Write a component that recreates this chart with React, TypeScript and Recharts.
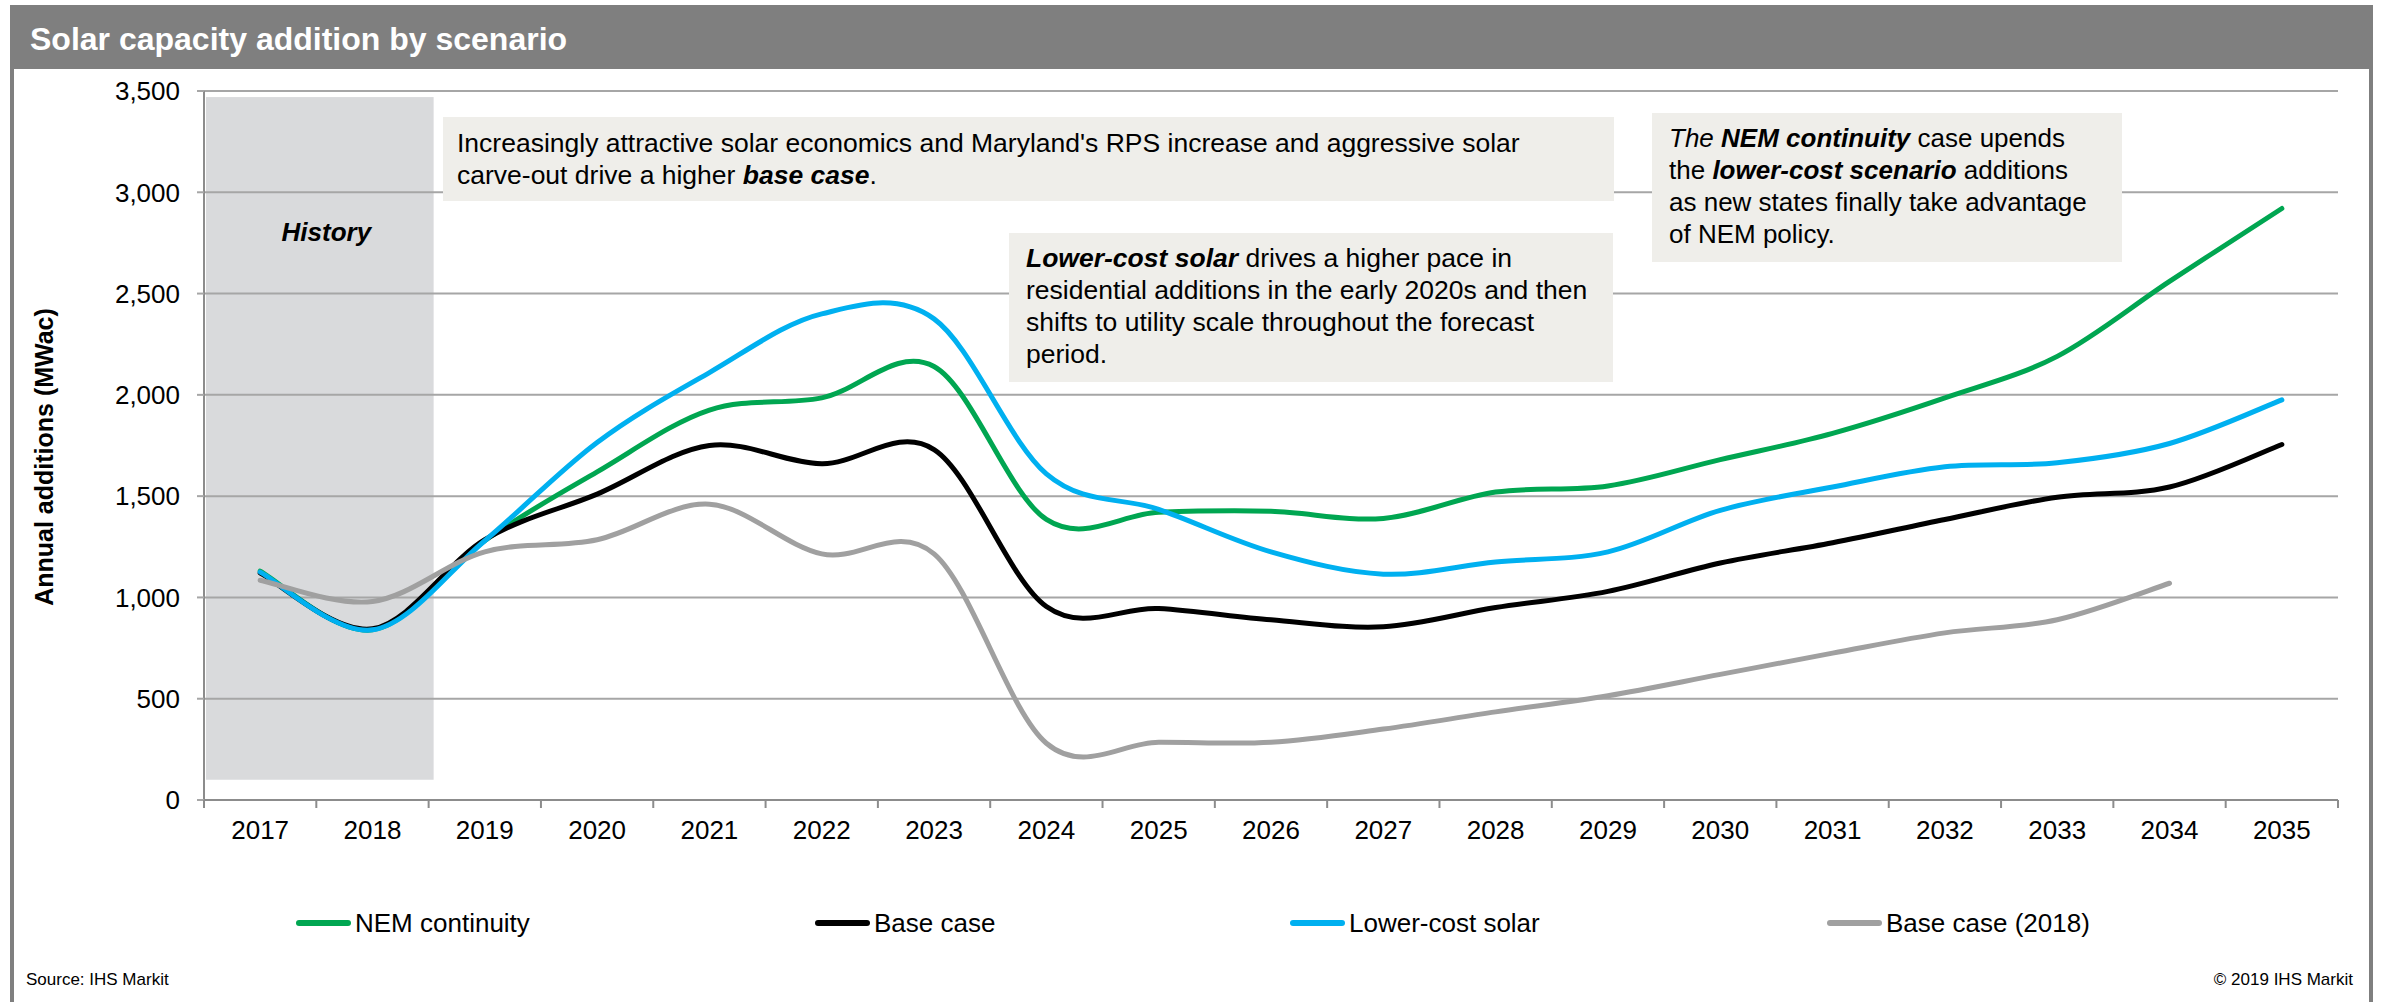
import React from 'react';
import { CartesianGrid, Line, LineChart, ReferenceArea, XAxis, YAxis } from 'recharts';

const years = [
  '2017', '2018', '2019', '2020', '2021', '2022', '2023', '2024', '2025', '2026',
  '2027', '2028', '2029', '2030', '2031', '2032', '2033', '2034', '2035',
];
const nemContinuity = [1130, 840, 1280, 1620, 1925, 1985, 2140, 1385, 1420, 1425, 1390, 1520, 1550, 1680, 1810, 1985, 2190, 2560, 2920];
const baseCase = [1120, 845, 1285, 1510, 1750, 1660, 1730, 955, 945, 890, 855, 950, 1030, 1170, 1270, 1385, 1495, 1545, 1755];
const lowerCostSolar = [1125, 840, 1280, 1765, 2110, 2400, 2375, 1610, 1435, 1225, 1115, 1175, 1225, 1430, 1545, 1645, 1665, 1760, 1975];
const baseCase2018 = [1085, 980, 1225, 1285, 1460, 1215, 1215, 280, 285, 285, 350, 435, 515, 620, 725, 825, 890, 1070, null];
const yTicks = [0, 500, 1000, 1500, 2000, 2500, 3000, 3500];
const historyYears = ['2017', '2018'];
const historyRange = [100, 3470];

const series = [
  { key: 'nem', name: 'NEM continuity', color: '#00A651', values: nemContinuity },
  { key: 'base', name: 'Base case', color: '#000000', values: baseCase },
  { key: 'lower', name: 'Lower-cost solar', color: '#00B0F0', values: lowerCostSolar },
  { key: 'base2018', name: 'Base case (2018)', color: '#A0A0A0', values: baseCase2018 },
];

const data = years.map((year, i) => {
  const row: Record<string, string | number | null> = { year };
  series.forEach((s) => {
    row[s.key] = s.values[i];
  });
  return row;
});

const W = 2382;
const H = 1002;
const PLOT_LEFT = 204;
const PLOT_RIGHT = 2338;
const PLOT_TOP = 91;
const PLOT_BOTTOM = 800;
const Y_AXIS_W = 80;
const X_AXIS_H = 50;
const HALF_BAND = (PLOT_RIGHT - PLOT_LEFT) / years.length / 2;
const TICK_SIZE = 8;
const FONT = '"Liberation Sans", Arial, sans-serif';
const legendLeft = [296, 815, 1290, 1827];

// Excel-style smoothed line: Catmull-Rom segments through every point
const smoothCurve = (context: any) => {
  let pts: [number, number][] = [];
  return {
    areaStart() {},
    areaEnd() {},
    lineStart() {
      pts = [];
    },
    point(x: number, y: number) {
      pts.push([+x, +y]);
    },
    lineEnd() {
      const n = pts.length;
      if (!n) return;
      context.moveTo(pts[0][0], pts[0][1]);
      for (let i = 0; i < n - 1; i++) {
        const p0 = pts[i - 1] || pts[i];
        const p1 = pts[i];
        const p2 = pts[i + 1];
        const p3 = pts[i + 2] || p2;
        context.bezierCurveTo(
          p1[0] + (p2[0] - p0[0]) / 6,
          p1[1] + (p2[1] - p0[1]) / 6,
          p2[0] - (p3[0] - p1[0]) / 6,
          p2[1] - (p3[1] - p1[1]) / 6,
          p2[0],
          p2[1],
        );
      }
    },
  };
};

const XTick = (props: any) => {
  const { x, y, payload, index } = props;
  const axisY = y - TICK_SIZE;
  const last = index === years.length - 1;
  return (
    <g>
      <line x1={x - HALF_BAND} x2={x - HALF_BAND} y1={axisY} y2={axisY + TICK_SIZE} stroke='#8c8c8c' strokeWidth={2} />
      {last && <line x1={x + HALF_BAND} x2={x + HALF_BAND} y1={axisY} y2={axisY + TICK_SIZE} stroke='#8c8c8c' strokeWidth={2} />}
      <text x={x} y={axisY + 39} textAnchor='middle' fontSize={26} fontFamily={FONT} fill='#000'>
        {payload.value}
      </text>
    </g>
  );
};

const HistoryShape = (props: any) => {
  const { x, y, width, height } = props;
  return (
    <g>
      <rect x={x - HALF_BAND + 2} y={y} width={width + 2 * HALF_BAND + 3} height={height} fill='#D9DADC' />
      <text x={x + width / 2 + 10} y={y + 144} textAnchor='middle' fontSize={26} fontWeight='bold' fontStyle='italic' fontFamily={FONT} fill='#000'>
        History
      </text>
    </g>
  );
};

const boxStyle: React.CSSProperties = {
  position: 'absolute',
  background: '#EFEEEA',
  fontFamily: FONT,
  fontSize: 26.5,
  lineHeight: '32px',
  color: '#000',
  whiteSpace: 'nowrap',
  boxSizing: 'border-box',
};

export default function App() {
  return (
    <div style={{ position: 'absolute', left: 0, top: 0, width: W, height: H, background: '#fff', overflow: 'hidden', fontFamily: FONT }}>
      <div
        style={{
          position: 'absolute', left: 10, top: 5, width: 2363, height: H, boxSizing: 'border-box',
          borderLeft: '4px solid #7F7F7F', borderRight: '4px solid #7F7F7F',
        }}
      />
      <div style={{ position: 'absolute', left: 10, top: 5, width: 2363, height: 64, background: '#7F7F7F' }} />
      <div style={{ position: 'absolute', left: 30, top: 23, fontSize: 32, lineHeight: '32px', fontWeight: 'bold', color: '#fff' }}>
        Solar capacity addition by scenario
      </div>

      <div style={{ position: 'absolute', left: 0, top: 0 }}>
        <LineChart
          width={W}
          height={H}
          data={data}
          margin={{ top: PLOT_TOP, right: W - PLOT_RIGHT, left: PLOT_LEFT - Y_AXIS_W, bottom: H - PLOT_BOTTOM - X_AXIS_H }}
        >
          <ReferenceArea
            x1={historyYears[0]}
            x2={historyYears[1]}
            y1={historyRange[0]}
            y2={historyRange[1]}
            shape={<HistoryShape />}
            zIndex={-200}
          />
          <CartesianGrid vertical={false} stroke='#A6A6A6' strokeWidth={2} />
          <XAxis
            dataKey='year'
            padding={{ left: HALF_BAND, right: HALF_BAND }}
            height={X_AXIS_H}
            axisLine={{ stroke: '#8c8c8c', strokeWidth: 2 }}
            tickLine={false}
            tickSize={TICK_SIZE}
            tickMargin={0}
            interval={0}
            tick={<XTick />}
          />
          <YAxis
            domain={[0, 3500]}
            ticks={yTicks}
            interval={0}
            width={Y_AXIS_W}
            axisLine={{ stroke: '#8c8c8c', strokeWidth: 2 }}
            tickLine={{ stroke: '#A6A6A6', strokeWidth: 2 }}
            tickSize={7}
            tickMargin={17}
            tick={{ fill: '#000', fontSize: 26, fontFamily: FONT }}
            tickFormatter={(v: number) => v.toLocaleString('en-US')}
          />
          {series.map((s) => (
            <Line
              key={s.key}
              type={smoothCurve as any}
              dataKey={s.key}
              name={s.name}
              stroke={s.color}
              strokeWidth={5}
              strokeLinecap='round'
              dot={false}
              activeDot={false}
              isAnimationActive={false}
            />
          ))}
        </LineChart>
      </div>

      <div
        style={{
          position: 'absolute', left: 44, top: 457, transform: 'translate(-50%, -50%) rotate(-90deg)',
          fontSize: 25, fontWeight: 'bold', whiteSpace: 'nowrap', color: '#000',
        }}
      >
        Annual additions (MWac)
      </div>

      <div style={{ ...boxStyle, left: 443, top: 117, width: 1171, height: 84, padding: '10px 0 0 14px' }}>
        Increasingly attractive solar economics and Maryland's RPS increase and aggressive solar
        <br />
        carve-out drive a higher <b><i>base case</i></b>.
      </div>
      <div style={{ ...boxStyle, left: 1009, top: 233, width: 604, height: 149, padding: '9px 0 0 17px' }}>
        <b><i>Lower-cost solar</i></b> drives a higher pace in
        <br />
        residential additions in the early 2020s and then
        <br />
        shifts to utility scale throughout the forecast
        <br />
        period.
      </div>
      <div style={{ ...boxStyle, fontSize: 26, left: 1652, top: 113, width: 470, height: 149, padding: '9px 0 0 17px' }}>
        <i>The</i> <b><i>NEM continuity</i></b> case upends
        <br />
        the <b><i>lower-cost scenario</i></b> additions
        <br />
        as new states finally take advantage
        <br />
        of NEM policy.
      </div>

      {series.map((s, i) => (
        <div
          key={s.key}
          style={{ position: 'absolute', left: legendLeft[i], top: 907, height: 32, display: 'flex', alignItems: 'center', fontSize: 26, color: '#000', whiteSpace: 'nowrap' }}
        >
          <div style={{ width: 55, height: 6, borderRadius: 3, background: s.color, marginRight: 4 }} />
          {s.name}
        </div>
      ))}

      <div style={{ position: 'absolute', left: 26, top: 970.6, fontSize: 17, lineHeight: '17px', color: '#000' }}>Source: IHS Markit</div>
      <div style={{ position: 'absolute', right: W - 2353, top: 970.6, fontSize: 17, lineHeight: '17px', color: '#000' }}>© 2019 IHS Markit</div>
    </div>
  );
}
